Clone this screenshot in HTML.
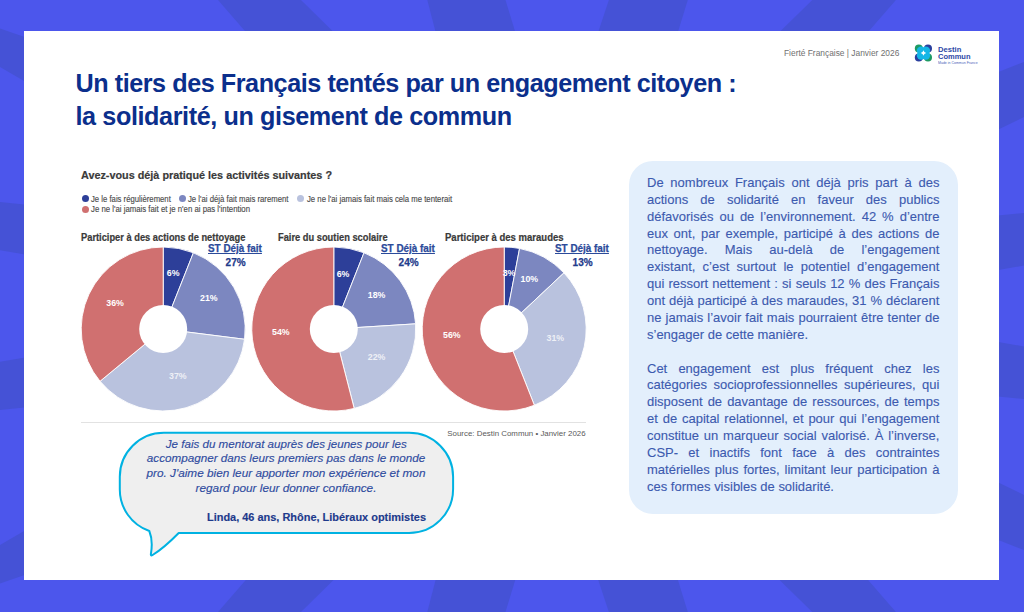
<!DOCTYPE html>
<html><head><meta charset="utf-8"><title>slide</title>
<style>
html,body{margin:0;padding:0}
body{width:1024px;height:612px;position:relative;overflow:hidden;background:#4c56ec;font-family:"Liberation Sans",sans-serif}
.t{position:absolute;white-space:nowrap}
</style></head><body>
<svg width="1024" height="612" style="position:absolute;left:0;top:0"><polygon fill="#4552d6" points="216.262,-2 298.967,-2 341.656,40 252.754,40"/><polygon fill="#4552d6" points="216.262,614 298.967,614 341.656,572 252.754,572"/><polygon fill="#4552d6" points="426.782,-2 504.89,-2 517.697,40 437.661,40"/><polygon fill="#4552d6" points="426.782,614 504.89,614 517.697,572 437.661,572"/><polygon fill="#4552d6" points="609.566,-2 688.416,-2 675.472,40 595.589,40"/><polygon fill="#4552d6" points="609.566,614 688.416,614 675.472,572 595.589,572"/><polygon fill="#4552d6" points="814.346,-2 897.638,-2 861.146,40 771.382,40"/><polygon fill="#4552d6" points="814.346,614 897.638,614 861.146,572 771.382,572"/><polygon fill="#4552d6" points="-2,27.9167 34,40.2167 34,86.6917 -2,65.8417"/><polygon fill="#4552d6" points="-2,584.083 34,571.783 34,525.308 -2,546.158"/><polygon fill="#4552d6" points="-2,201.792 34,205.542 34,255.967 -2,249.967"/><polygon fill="#4552d6" points="-2,410.208 34,406.458 34,356.033 -2,362.033"/><polygon fill="#4552d6" points="990,75.228 1026,61.116 1026,116.024 990,133.592"/><polygon fill="#4552d6" points="990,536.772 1026,550.884 1026,495.976 990,478.408"/><polygon fill="#4552d6" points="990,216.164 1026,212.708 1026,265.14 990,271.62"/><polygon fill="#4552d6" points="990,395.836 1026,399.292 1026,346.86 990,340.38"/></svg>
<div style="position:absolute;left:24px;top:31px;width:975px;height:549px;background:#fff"></div>
<div class="t" style="left:784.00px;top:48.59px;font-size:8.4px;line-height:8.4px;color:#707070;font-weight:normal;font-style:normal;">Fierté Française | Janvier 2026</div>
<svg width="20" height="20" viewBox="0 0 20 20" style="position:absolute;left:913px;top:43px"><circle cx="5.8" cy="5.5" r="4" fill="#1e9a64"/><circle cx="15" cy="5.5" r="4" fill="#2a3f9e"/><circle cx="5.8" cy="14.5" r="4" fill="#2a3f9e"/><circle cx="15" cy="14.5" r="4" fill="#1e9a64"/><g fill="#14b6e6"><circle cx="8" cy="7.6" r="4.2"/><circle cx="12.9" cy="7.6" r="4.2"/><circle cx="8" cy="12.5" r="4.2"/><circle cx="12.9" cy="12.5" r="4.2"/></g><path d="M10.45 7.3 Q10.9 9.6 13.2 10.05 Q10.9 10.5 10.45 12.8 Q10 10.5 7.7 10.05 Q10 9.6 10.45 7.3Z" fill="#fff"/></svg>
<div class="t" style="left:937.60px;top:45.61px;font-size:7.2px;line-height:7.2px;color:#2c48a6;font-weight:bold;font-style:normal;transform:scaleX(1.06);transform-origin:0 0;">Destin</div>
<div class="t" style="left:937.60px;top:52.71px;font-size:7.2px;line-height:7.2px;color:#2c48a6;font-weight:bold;font-style:normal;transform:scaleX(1.045);transform-origin:0 0;">Commun</div>
<div class="t" style="left:938.00px;top:62.26px;font-size:3px;line-height:3px;color:#4a64b8;font-weight:normal;font-style:normal;transform:scaleX(1.17);transform-origin:0 0;">Made in Commun France</div>
<div class="t" style="left:75.50px;top:71.27px;font-size:25.2px;line-height:25.2px;color:#0b2f8c;font-weight:bold;font-style:normal;letter-spacing:-0.45px;">Un tiers des Français tentés par un engagement citoyen :</div>
<div class="t" style="left:75.50px;top:104.27px;font-size:25.2px;line-height:25.2px;color:#0b2f8c;font-weight:bold;font-style:normal;letter-spacing:-0.4px;">la solidarité, un gisement de commun</div>
<div class="t" style="left:80.80px;top:170.27px;font-size:11.5px;line-height:11.5px;color:#3a3a3a;font-weight:bold;font-style:normal;transform:scaleX(0.941);transform-origin:0 0;-webkit-text-stroke:0.2px #3a3a3a;">Avez-vous déjà pratiqué les activités suivantes ?</div>
<div style="position:absolute;left:81.50px;top:195.20px;width:7px;height:7px;border-radius:50%;background:#2d3f99"></div>
<div class="t" style="left:90.80px;top:193.90px;font-size:9.8px;line-height:9.8px;color:#4a4a4a;font-weight:normal;font-style:normal;transform:scaleX(0.788);transform-origin:0 0;-webkit-text-stroke:0.15px #4a4a4a;">Je le fais régulièrement</div>
<div style="position:absolute;left:179.00px;top:195.30px;width:7px;height:7px;border-radius:50%;background:#7c87c0"></div>
<div class="t" style="left:188.30px;top:193.90px;font-size:9.8px;line-height:9.8px;color:#4a4a4a;font-weight:normal;font-style:normal;transform:scaleX(0.79);transform-origin:0 0;-webkit-text-stroke:0.15px #4a4a4a;">Je l'ai déjà fait mais rarement</div>
<div style="position:absolute;left:297.00px;top:195.30px;width:7px;height:7px;border-radius:50%;background:#b9c2de"></div>
<div class="t" style="left:306.60px;top:193.90px;font-size:9.8px;line-height:9.8px;color:#4a4a4a;font-weight:normal;font-style:normal;transform:scaleX(0.79);transform-origin:0 0;-webkit-text-stroke:0.15px #4a4a4a;">Je ne l'ai jamais fait mais cela me tenterait</div>
<div style="position:absolute;left:81.50px;top:205.70px;width:7px;height:7px;border-radius:50%;background:#d07070"></div>
<div class="t" style="left:90.80px;top:203.50px;font-size:9.8px;line-height:9.8px;color:#4a4a4a;font-weight:normal;font-style:normal;transform:scaleX(0.795);transform-origin:0 0;-webkit-text-stroke:0.15px #4a4a4a;">Je ne l'ai jamais fait et je n'en ai pas l'intention</div>
<svg width="1024" height="612" style="position:absolute;left:0;top:0"><path d="M163.20 329.00 L163.20 247.00 A82 82 0 0 1 193.39 252.76 Z" fill="#2d3f99" stroke="#fff" stroke-width="0.9"/><path d="M163.20 329.00 L193.39 252.76 A82 82 0 0 1 244.55 339.28 Z" fill="#7c87c0" stroke="#fff" stroke-width="0.9"/><path d="M163.20 329.00 L244.55 339.28 A82 82 0 0 1 100.02 381.27 Z" fill="#b9c2de" stroke="#fff" stroke-width="0.9"/><path d="M163.20 329.00 L100.02 381.27 A82 82 0 0 1 163.20 247.00 Z" fill="#d07070" stroke="#fff" stroke-width="0.9"/><circle cx="163.2" cy="329" r="24" fill="#fff"/><path d="M333.80 329.00 L333.80 247.00 A82 82 0 0 1 363.99 252.76 Z" fill="#2d3f99" stroke="#fff" stroke-width="0.9"/><path d="M333.80 329.00 L363.99 252.76 A82 82 0 0 1 415.64 323.85 Z" fill="#7c87c0" stroke="#fff" stroke-width="0.9"/><path d="M333.80 329.00 L415.64 323.85 A82 82 0 0 1 354.19 408.42 Z" fill="#b9c2de" stroke="#fff" stroke-width="0.9"/><path d="M333.80 329.00 L354.19 408.42 A82 82 0 1 1 333.80 247.00 Z" fill="#d07070" stroke="#fff" stroke-width="0.9"/><circle cx="333.8" cy="329" r="24" fill="#fff"/><path d="M504.20 329.00 L504.20 247.00 A82 82 0 0 1 519.57 248.45 Z" fill="#2d3f99" stroke="#fff" stroke-width="0.9"/><path d="M504.20 329.00 L519.57 248.45 A82 82 0 0 1 563.98 272.87 Z" fill="#7c87c0" stroke="#fff" stroke-width="0.9"/><path d="M504.20 329.00 L563.98 272.87 A82 82 0 0 1 534.39 405.24 Z" fill="#b9c2de" stroke="#fff" stroke-width="0.9"/><path d="M504.20 329.00 L534.39 405.24 A82 82 0 1 1 504.20 247.00 Z" fill="#d07070" stroke="#fff" stroke-width="0.9"/><circle cx="504.2" cy="329" r="24" fill="#fff"/><rect x="81" y="422" width="505" height="1" fill="#e2e2e2"/></svg>
<div class="t" style="left:81.00px;top:233.23px;font-size:10px;line-height:10px;color:#3a3a3a;font-weight:bold;font-style:normal;transform:scaleX(0.93);transform-origin:0 0;-webkit-text-stroke:0.2px #3a3a3a;">Participer à des actions de nettoyage</div>
<div class="t" style="left:278.20px;top:233.23px;font-size:10px;line-height:10px;color:#3a3a3a;font-weight:bold;font-style:normal;transform:scaleX(0.93);transform-origin:0 0;-webkit-text-stroke:0.2px #3a3a3a;">Faire du soutien scolaire</div>
<div class="t" style="left:444.90px;top:233.23px;font-size:10px;line-height:10px;color:#3a3a3a;font-weight:bold;font-style:normal;transform:scaleX(0.952);transform-origin:0 0;-webkit-text-stroke:0.2px #3a3a3a;">Participer à des maraudes</div>
<div class="t" style="left:208.30px;top:244.13px;font-size:10px;line-height:10px;color:#2b4a9a;font-weight:bold;font-style:normal;transform:scaleX(0.99);transform-origin:0 0;text-decoration:underline;-webkit-text-stroke:0.25px #2b4a9a;">ST Déjà fait</div>
<div class="t" style="left:381.00px;top:244.13px;font-size:10px;line-height:10px;color:#2b4a9a;font-weight:bold;font-style:normal;transform:scaleX(0.99);transform-origin:0 0;text-decoration:underline;-webkit-text-stroke:0.25px #2b4a9a;">ST Déjà fait</div>
<div class="t" style="left:555.10px;top:244.13px;font-size:10px;line-height:10px;color:#2b4a9a;font-weight:bold;font-style:normal;transform:scaleX(0.99);transform-origin:0 0;text-decoration:underline;-webkit-text-stroke:0.25px #2b4a9a;">ST Déjà fait</div>
<div class="t" style="left:215.60px;top:257.84px;font-size:10px;line-height:10px;color:#1f3b8c;font-weight:bold;width:40px;text-align:center;-webkit-text-stroke:0.25px #1f3b8c">27%</div>
<div class="t" style="left:388.60px;top:257.84px;font-size:10px;line-height:10px;color:#1f3b8c;font-weight:bold;width:40px;text-align:center;-webkit-text-stroke:0.25px #1f3b8c">24%</div>
<div class="t" style="left:562.60px;top:257.84px;font-size:10px;line-height:10px;color:#1f3b8c;font-weight:bold;width:40px;text-align:center;-webkit-text-stroke:0.25px #1f3b8c">13%</div>
<div class="t" style="left:158.20px;top:269.45px;font-size:8.8px;line-height:8.8px;color:#fff;font-weight:bold;width:30px;text-align:center">6%</div>
<div class="t" style="left:193.90px;top:294.45px;font-size:8.8px;line-height:8.8px;color:#fff;font-weight:bold;width:30px;text-align:center">21%</div>
<div class="t" style="left:162.80px;top:371.95px;font-size:8.8px;line-height:8.8px;color:#eef0f6;font-weight:bold;width:30px;text-align:center">37%</div>
<div class="t" style="left:100.10px;top:299.35px;font-size:8.8px;line-height:8.8px;color:#fff;font-weight:bold;width:30px;text-align:center">36%</div>
<div class="t" style="left:328.00px;top:269.95px;font-size:8.8px;line-height:8.8px;color:#fff;font-weight:bold;width:30px;text-align:center">6%</div>
<div class="t" style="left:361.60px;top:290.55px;font-size:8.8px;line-height:8.8px;color:#fff;font-weight:bold;width:30px;text-align:center">18%</div>
<div class="t" style="left:361.60px;top:353.35px;font-size:8.8px;line-height:8.8px;color:#eef0f6;font-weight:bold;width:30px;text-align:center">22%</div>
<div class="t" style="left:265.80px;top:328.15px;font-size:8.8px;line-height:8.8px;color:#fff;font-weight:bold;width:30px;text-align:center">54%</div>
<div class="t" style="left:494.00px;top:268.95px;font-size:8.8px;line-height:8.8px;color:#fff;font-weight:bold;width:30px;text-align:center">3%</div>
<div class="t" style="left:514.30px;top:274.85px;font-size:8.8px;line-height:8.8px;color:#fff;font-weight:bold;width:30px;text-align:center">10%</div>
<div class="t" style="left:540.40px;top:333.65px;font-size:8.8px;line-height:8.8px;color:#eef0f6;font-weight:bold;width:30px;text-align:center">31%</div>
<div class="t" style="left:436.80px;top:331.45px;font-size:8.8px;line-height:8.8px;color:#fff;font-weight:bold;width:30px;text-align:center">56%</div>
<div class="t" style="left:447.30px;top:430.01px;font-size:7.9px;line-height:7.9px;color:#5a5a5a;font-weight:normal;font-style:normal;">Source: Destin Commun • Janvier 2026</div>
<svg width="1024" height="612" style="position:absolute;left:0;top:0"><path d="M163.8 432.8 L409.1 432.8 A44 44 0 0 1 453.1 476.8 L453.1 489 A44 44 0 0 1 409.1 533 L178.7 533 Q164 548 152.6 555 Q150.6 556.2 150.9 554 Q153.2 540.5 149.3 531 A44 44 0 0 1 119.8 489 L119.8 476.8 A44 44 0 0 1 163.8 432.8 Z" fill="#efefef" stroke="#00b2e2" stroke-width="2" stroke-linejoin="round"/></svg>
<div class="t" style="left:86.30px;top:437.58px;width:400px;text-align:center;font-size:11.6px;line-height:11.6px;color:#2f4c9f;font-weight:normal;font-style:italic;-webkit-text-stroke:0.15px #2f4c9f">Je fais du mentorat auprès des jeunes pour les</div>
<div class="t" style="left:86.30px;top:452.28px;width:400px;text-align:center;font-size:11.6px;line-height:11.6px;color:#2f4c9f;font-weight:normal;font-style:italic;transform:scaleX(1.007);-webkit-text-stroke:0.15px #2f4c9f">accompagner dans leurs premiers pas dans le monde</div>
<div class="t" style="left:86.30px;top:466.98px;width:400px;text-align:center;font-size:11.6px;line-height:11.6px;color:#2f4c9f;font-weight:normal;font-style:italic;transform:scaleX(1.015);-webkit-text-stroke:0.15px #2f4c9f">pro. J'aime bien leur apporter mon expérience et mon</div>
<div class="t" style="left:86.30px;top:481.68px;width:400px;text-align:center;font-size:11.6px;line-height:11.6px;color:#2f4c9f;font-weight:normal;font-style:italic;transform:scaleX(1.017);-webkit-text-stroke:0.15px #2f4c9f">regard pour leur donner confiance.</div>
<div class="t" style="left:125.90px;top:511.77px;width:300px;text-align:right;font-size:11.5px;line-height:11.5px;color:#1d3a8c;font-weight:bold;-webkit-text-stroke:0.15px #1d3a8c;transform:scaleX(0.952);transform-origin:100% 0">Linda, 46 ans, Rhône, Libéraux optimistes</div>
<div style="position:absolute;left:629.4px;top:161px;width:328.2px;height:352.6px;border-radius:24px;background:#e3effc"></div>
<div class="t" style="left:647.3px;top:175.96px;width:301.44px;font-size:13.4px;line-height:13.4px;color:#3c5aaf;text-align:justify;text-align-last:justify;white-space:normal;transform:scaleX(0.97);transform-origin:0 0;-webkit-text-stroke:0.12px #3c5aaf">De nombreux Français ont déjà pris part à des</div>
<div class="t" style="left:647.3px;top:192.83px;width:301.44px;font-size:13.4px;line-height:13.4px;color:#3c5aaf;text-align:justify;text-align-last:justify;white-space:normal;transform:scaleX(0.97);transform-origin:0 0;-webkit-text-stroke:0.12px #3c5aaf">actions de solidarité en faveur des publics</div>
<div class="t" style="left:647.3px;top:209.70px;width:301.44px;font-size:13.4px;line-height:13.4px;color:#3c5aaf;text-align:justify;text-align-last:justify;white-space:normal;transform:scaleX(0.97);transform-origin:0 0;-webkit-text-stroke:0.12px #3c5aaf">défavorisés ou de l’environnement. 42 % d’entre</div>
<div class="t" style="left:647.3px;top:226.57px;width:301.44px;font-size:13.4px;line-height:13.4px;color:#3c5aaf;text-align:justify;text-align-last:justify;white-space:normal;transform:scaleX(0.97);transform-origin:0 0;-webkit-text-stroke:0.12px #3c5aaf">eux ont, par exemple, participé à des actions de</div>
<div class="t" style="left:647.3px;top:243.44px;width:301.44px;font-size:13.4px;line-height:13.4px;color:#3c5aaf;text-align:justify;text-align-last:justify;white-space:normal;transform:scaleX(0.97);transform-origin:0 0;-webkit-text-stroke:0.12px #3c5aaf">nettoyage. Mais au-delà de l’engagement</div>
<div class="t" style="left:647.3px;top:260.31px;width:301.44px;font-size:13.4px;line-height:13.4px;color:#3c5aaf;text-align:justify;text-align-last:justify;white-space:normal;transform:scaleX(0.97);transform-origin:0 0;-webkit-text-stroke:0.12px #3c5aaf">existant, c’est surtout le potentiel d’engagement</div>
<div class="t" style="left:647.3px;top:277.18px;width:301.44px;font-size:13.4px;line-height:13.4px;color:#3c5aaf;text-align:justify;text-align-last:justify;white-space:normal;transform:scaleX(0.97);transform-origin:0 0;-webkit-text-stroke:0.12px #3c5aaf">qui ressort nettement : si seuls 12 % des Français</div>
<div class="t" style="left:647.3px;top:294.05px;width:301.44px;font-size:13.4px;line-height:13.4px;color:#3c5aaf;text-align:justify;text-align-last:justify;white-space:normal;transform:scaleX(0.97);transform-origin:0 0;-webkit-text-stroke:0.12px #3c5aaf">ont déjà participé à des maraudes, 31 % déclarent</div>
<div class="t" style="left:647.3px;top:310.92px;width:301.44px;font-size:13.4px;line-height:13.4px;color:#3c5aaf;text-align:justify;text-align-last:justify;white-space:normal;transform:scaleX(0.97);transform-origin:0 0;-webkit-text-stroke:0.12px #3c5aaf">ne jamais l’avoir fait mais pourraient être tenter de</div>
<div class="t" style="left:647.3px;top:327.79px;width:301.44px;font-size:13.4px;line-height:13.4px;color:#3c5aaf;white-space:normal;transform:scaleX(0.97);transform-origin:0 0;-webkit-text-stroke:0.12px #3c5aaf">s’engager de cette manière.</div>
<div class="t" style="left:647.3px;top:361.53px;width:301.44px;font-size:13.4px;line-height:13.4px;color:#3c5aaf;text-align:justify;text-align-last:justify;white-space:normal;transform:scaleX(0.97);transform-origin:0 0;-webkit-text-stroke:0.12px #3c5aaf">Cet engagement est plus fréquent chez les</div>
<div class="t" style="left:647.3px;top:378.40px;width:301.44px;font-size:13.4px;line-height:13.4px;color:#3c5aaf;text-align:justify;text-align-last:justify;white-space:normal;transform:scaleX(0.97);transform-origin:0 0;-webkit-text-stroke:0.12px #3c5aaf">catégories socioprofessionnelles supérieures, qui</div>
<div class="t" style="left:647.3px;top:395.27px;width:301.44px;font-size:13.4px;line-height:13.4px;color:#3c5aaf;text-align:justify;text-align-last:justify;white-space:normal;transform:scaleX(0.97);transform-origin:0 0;-webkit-text-stroke:0.12px #3c5aaf">disposent de davantage de ressources, de temps</div>
<div class="t" style="left:647.3px;top:412.14px;width:301.44px;font-size:13.4px;line-height:13.4px;color:#3c5aaf;text-align:justify;text-align-last:justify;white-space:normal;transform:scaleX(0.97);transform-origin:0 0;-webkit-text-stroke:0.12px #3c5aaf">et de capital relationnel, et pour qui l’engagement</div>
<div class="t" style="left:647.3px;top:429.01px;width:301.44px;font-size:13.4px;line-height:13.4px;color:#3c5aaf;text-align:justify;text-align-last:justify;white-space:normal;transform:scaleX(0.97);transform-origin:0 0;-webkit-text-stroke:0.12px #3c5aaf">constitue un marqueur social valorisé. À l’inverse,</div>
<div class="t" style="left:647.3px;top:445.88px;width:301.44px;font-size:13.4px;line-height:13.4px;color:#3c5aaf;text-align:justify;text-align-last:justify;white-space:normal;transform:scaleX(0.97);transform-origin:0 0;-webkit-text-stroke:0.12px #3c5aaf">CSP- et inactifs font face à des contraintes</div>
<div class="t" style="left:647.3px;top:462.75px;width:301.44px;font-size:13.4px;line-height:13.4px;color:#3c5aaf;text-align:justify;text-align-last:justify;white-space:normal;transform:scaleX(0.97);transform-origin:0 0;-webkit-text-stroke:0.12px #3c5aaf">matérielles plus fortes, limitant leur participation à</div>
<div class="t" style="left:647.3px;top:479.62px;width:301.44px;font-size:13.4px;line-height:13.4px;color:#3c5aaf;white-space:normal;transform:scaleX(0.97);transform-origin:0 0;-webkit-text-stroke:0.12px #3c5aaf">ces formes visibles de solidarité.</div>
</body></html>
